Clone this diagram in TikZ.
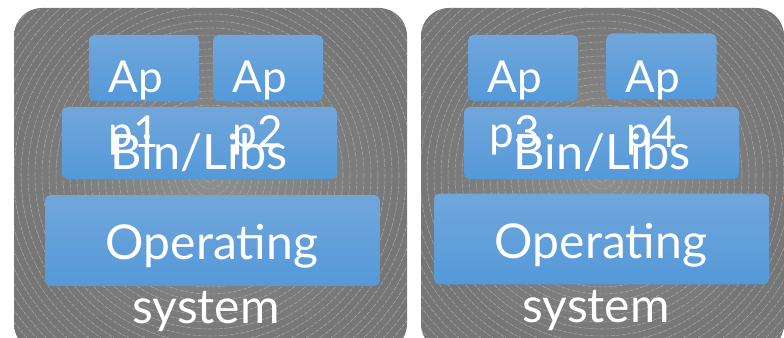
\documentclass[tikz,border=0pt]{standalone}
\usepackage{fontspec}
\setmainfont{Lato}
\definecolor{panelin}{HTML}{8E8E8E}
\definecolor{panelout}{HTML}{767676}
\definecolor{ringgray}{HTML}{A8A8A8}
\definecolor{blktop}{HTML}{71A6DB}
\definecolor{blkbot}{HTML}{5499D9}
\tikzset{
  panel/.style={rounded corners=21pt, inner color=panelin, outer color=panelout},
  ring/.style={ringgray, line width=0.4pt, dash pattern=on 3pt off 1pt},
  blk/.style={rectangle, rounded corners=4pt, inner sep=0pt, top color=blktop, bottom color=blkbot},
  appbox/.style={blk, minimum width=82.5pt, minimum height=49.5pt},
  libbox/.style={blk, minimum width=206.25pt, minimum height=54pt},
  osbox/.style={blk, minimum width=251.25pt, minimum height=68pt},
  lbl/.style={text=white, inner sep=0pt, anchor=base},
  applbl/.style={lbl, font=\fontsize{33}{40}\selectfont},
  liblbl/.style={lbl, font=\fontsize{36.5}{44}\selectfont},
  oslbl/.style={lbl, font=\fontsize{36}{43}\selectfont}
}
\begin{document}
\begin{tikzpicture}[x=0.75pt, y=-0.75pt]
  \useasboundingbox (0,0) rectangle (784,338);
  % the two machines
  \path[panel] (14,8) rectangle (407,352);
  \path[panel] (421,8) rectangle (784,352);
  \begin{scope}
    \clip[rounded corners=21pt] (14,8) rectangle (407,352);
    \foreach \r in {7,14,...,315}
      \draw[ring] (210,175) circle[radius=\r];
  \end{scope}
  \begin{scope}
    \clip[rounded corners=21pt] (421,8) rectangle (784,352);
    \foreach \r in {7,14,...,315}
      \draw[ring] (602,175) circle[radius=\r];
  \end{scope}
  % left stack
  \node[appbox] (app1) at (144,68) {};
  \node[appbox] (app2) at (268,68) {};
  \node[libbox] (lib1) at (199.5,143) {};
  \node[osbox] (os1) at (212.5,240.5) {};
  \node[applbl] (app1a) at (136,93) {Ap};
  \node[applbl] (app1b) at (134,148) {p1};
  \node[applbl] (app2a) at (260,93) {Ap};
  \node[applbl] (app2b) at (258,148) {p2};
  \node[liblbl] (lib1t) at (199,170) {Bin/Libs};
  \node[oslbl] (os1a) at (212,259) {Operating};
  \node[oslbl] (os1b) at (206,323) {system};
  % right stack
  \node[appbox] (app3) at (523,68) {};
  \node[appbox] (app4) at (661.5,66.5) {};
  \node[libbox] (lib2) at (601.5,143) {};
  \node[osbox] (os2) at (601.5,239) {};
  \node[applbl] (app3a) at (515,93) {Ap};
  \node[applbl] (app3b) at (515,148) {p3};
  \node[applbl] (app4a) at (653,93) {Ap};
  \node[applbl] (app4b) at (652,148) {p4};
  \node[liblbl] (lib2t) at (602,170) {Bin/Libs};
  \node[oslbl] (os2a) at (601,258) {Operating};
  \node[oslbl] (os2b) at (596,322) {system};
\end{tikzpicture}
\end{document}
